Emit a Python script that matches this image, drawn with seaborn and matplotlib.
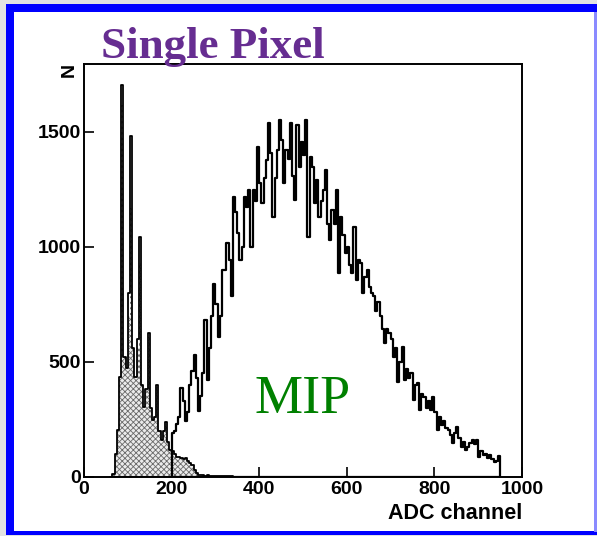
import numpy as np
import pandas as pd
import matplotlib
matplotlib.use("Agg")
import matplotlib.pyplot as plt
from matplotlib.patches import Rectangle
import seaborn as sns

# ---------------- data ----------------
bin_width = 5  # ADC channels per bin

# MIP spectrum: bins starting at 200, 5 ADC wide, up to 950
mip_start = 200
mip_counts = [
    190, 200, 230, 260, 386, 330, 240, 280, 400, 460,      # 200-250
    530, 430, 284, 350, 450, 682, 421, 560, 700, 838,      # 250-300
    750, 609, 700, 900, 899, 1015, 940, 784, 1217, 1150,   # 300-350
    1058, 943, 1000, 1217, 1174, 1247, 1000, 1247, 1200, 1435,  # 350-400
    1276, 1189, 1300, 1377, 1537, 1406, 1131, 1300, 1420, 1551,  # 400-450
    1464, 1276, 1420, 1380, 1537, 1305, 1203, 1529, 1348, 1457,  # 450-500
    1400, 1551, 1044, 1391, 1348, 1189, 1290, 1131, 1200, 1247,  # 500-550
    1334, 1100, 1029, 1160, 1100, 1247, 884, 1131, 1050, 971,    # 550-600
    1000, 920, 884, 1087, 855, 940, 928, 797, 870, 899,          # 600-650
    826, 800, 784, 720, 760, 697, 640, 580, 640, 623,            # 650-700
    600, 522, 560, 413, 500, 565, 420, 470, 428, 450,            # 700-750
    333, 400, 406, 290, 360, 348, 300, 330, 290, 348,            # 750-800
    280, 203, 260, 225, 240, 210, 203, 180, 145, 190,            # 800-850
    217, 170, 130, 150, 116, 130, 145, 160, 140, 160,            # 850-900
    87, 110, 94, 100, 80, 95, 75, 65, 70, 90,                    # 900-950
]

# Low-amplitude (pedestal) spectrum: bins starting at 60
ped_start = 60
ped_counts = [
    0, 10, 100, 203, 435, 1704, 520, 471, 800, 1480,
    560, 435, 600, 1043, 400, 304, 380, 623, 300, 246,
    260, 400, 200, 160, 200, 239, 150, 116, 110, 100,
    87, 85, 80, 78, 80, 70, 60, 51, 30, 15,
    8, 6, 7, 5, 6, 5, 4, 4, 3, 3,
    2, 2, 2, 1, 1, 1, 0, 0,
]
# hatched part (lower than the outline at the narrow spikes)
ped_fill = [
    0, 10, 100, 203, 435, 1617, 520, 471, 700, 1168,
    560, 435, 560, 929, 400, 304, 380, 609, 300, 246,
    260, 390, 200, 160, 200, 230, 150, 116, 110, 100,
    87, 85, 80, 78, 80, 70, 60, 51, 30, 15,
    8, 6, 7, 5, 6, 5, 4, 4, 3, 3,
    2, 2, 2, 1, 1, 1, 0, 0,
]

x_ticks = [0, 200, 400, 600, 800, 1000]
y_ticks = [0, 500, 1000, 1500]
title_text = "Single Pixel"
mip_label = "MIP"
x_label = "ADC channel"
y_label = "N"

# ---------------- build tables ----------------
mip_edges = [float(e) for e in mip_start + bin_width * np.arange(len(mip_counts) + 1)]
mip_df = pd.DataFrame({"adc": np.array(mip_edges[:-1]) + bin_width / 2, "n": mip_counts})
ped_edges = [float(e) for e in ped_start + bin_width * np.arange(len(ped_counts) + 1)]
ped_df = pd.DataFrame({"adc": np.array(ped_edges[:-1]) + bin_width / 2,
                       "n": ped_counts, "fill": ped_fill})

# ---------------- figure ----------------
plt.rcParams["font.family"] = ["Liberation Sans", "DejaVu Sans"]
plt.rcParams["font.weight"] = "bold"
plt.rcParams["hatch.color"] = "#6a6a6a"
plt.rcParams["hatch.linewidth"] = 0.6

W, H = 597, 536
fig = plt.figure(figsize=(W / 100, H / 100), dpi=100)
fig.patch.set_facecolor("#e2e2e2")

def px_rect(x0, y0, x1, y1, **kw):
    fig.add_artist(Rectangle((x0 / W, 1 - y1 / H), (x1 - x0) / W, (y1 - y0) / H,
                             transform=fig.transFigure, zorder=0, **kw))

px_rect(6, 4, 597, 535, facecolor="#0000ff", edgecolor="none")
px_rect(594, 12, 597, 532, facecolor="#8a8aff", edgecolor="none")
px_rect(14, 12, 594, 531, facecolor="white", edgecolor="none")

ax_l, ax_r, ax_t, ax_b = 84, 522, 64, 476.7
ax = fig.add_axes([ax_l / W, 1 - ax_b / H, (ax_r - ax_l) / W, (ax_b - ax_t) / H])
ax.set_facecolor("none")

# hatched pedestal fill
sns.histplot(data=ped_df, x="adc", weights="fill", bins=ped_edges, element="step",
             fill=True, color="#ebebeb", facecolor="#ebebeb", edgecolor="#6a6a6a",
             hatch="xxxxxx", linewidth=0, alpha=1, ax=ax)
# pedestal outline
sns.histplot(data=ped_df, x="adc", weights="n", bins=ped_edges, element="step",
             fill=True, color="black", facecolor="none", edgecolor="black",
             linewidth=1.3, alpha=1, ax=ax)
# MIP outline
sns.histplot(data=mip_df, x="adc", weights="n", bins=mip_edges, element="step",
             fill=True, color="black", facecolor="none", edgecolor="black",
             linewidth=1.6, alpha=1, ax=ax)

ax.set_xlim(0, 1000)
ax.set_ylim(0, 1794)
ax.set_xticks(x_ticks)
ax.set_yticks(y_ticks)
ax.set_xlabel("")
ax.set_ylabel("")
for s in ax.spines.values():
    s.set_linewidth(1.4)
    s.set_color("black")
ax.tick_params(axis="both", direction="in", length=7, width=1.2, color="black",
               labelsize=14)
ax.tick_params(axis="y", pad=2)
ax.tick_params(axis="x", pad=3)
for lab in ax.get_xticklabels() + ax.get_yticklabels():
    lab.set_fontweight("bold")

# texts
fig.text(101 / W, 1 - 58 / H, title_text, family="Liberation Serif", weight="bold",
         size=32.4, color="#662d91", ha="left", va="baseline")
ax.text(390, 277, mip_label, family="Liberation Serif", weight="normal", size=39,
        color="#008000", ha="left", va="baseline")
fig.text(522 / W, 1 - 519 / H, x_label, weight="bold", size=15.5,
         ha="right", va="baseline")
fig.text(69 / W, 1 - 70 / H, y_label, weight="bold", size=14,
         rotation=90, ha="center", va="center")

fig.savefig("out.png", dpi=100, facecolor=fig.get_facecolor())
